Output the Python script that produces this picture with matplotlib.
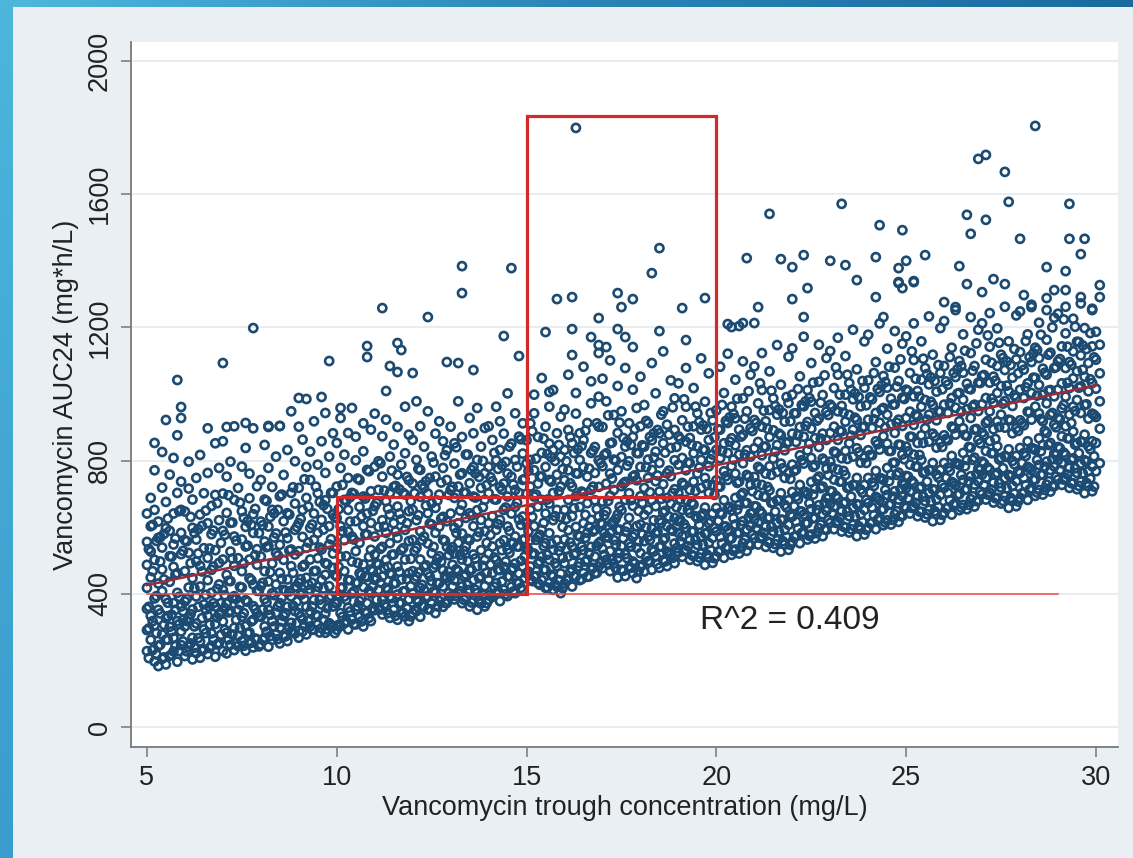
import numpy as np
import matplotlib
matplotlib.use("Agg")
import matplotlib.pyplot as plt
from matplotlib.colors import LinearSegmentedColormap
from matplotlib.patches import Rectangle

plt.rcParams['font.family'] = ['Liberation Sans', 'DejaVu Sans']

# AUC24 readings, grouped by trough band; row k of a band = trough base + 0.k mg/L
auc_t05 = [
    [228, 291, 355, 418, 487, 556, 641], [262, 334, 449, 527, 603, 688],
    [197, 305, 386, 502, 652, 771], [183, 243, 352, 431, 568, 617],
    [205, 278, 408, 473, 539, 719, 826], [188, 262, 327, 384, 597, 676],
    [214, 301, 436, 513, 589, 758], [227, 268, 372, 481, 548, 641, 808],
    [196, 318, 403, 462, 703, 876], [246, 287, 362, 519, 583, 652, 737],
]
auc_t06 = [
    [213, 302, 377, 468, 561, 647], [241, 326, 419, 523, 716, 797],
    [203, 268, 353, 447, 598, 683], [222, 311, 392, 497, 563, 748],
    [208, 257, 422, 484, 638, 817], [233, 293, 368, 537, 702],
    [219, 334, 441, 508, 612, 763, 897], [244, 281, 403, 472, 579, 664],
    [211, 309, 362, 531, 697, 852], [252, 338, 428, 493, 621, 778],
]
auc_t07 = [
    [228, 317, 412, 503, 589, 701, 858], [221, 283, 371, 457, 643, 752],
    [247, 349, 438, 527, 613, 797], [231, 298, 393, 484, 572, 682, 903],
    [243, 274, 352, 507, 718], [258, 331, 419, 468, 563, 648, 782],
    [229, 303, 381, 542, 601, 838], [252, 284, 447, 503, 687, 761],
    [239, 322, 363, 428, 583, 639, 897], [263, 342, 409, 487, 534, 723],
]
auc_t08 = [
    [248, 331, 423, 512, 617, 742], [268, 302, 384, 468, 557, 683, 847],
    [241, 352, 437, 543, 602, 778, 901], [262, 318, 402, 491, 652, 721],
    [279, 343, 428, 523, 581, 812], [251, 298, 372, 463, 547, 693, 904],
    [272, 333, 412, 502, 618, 757], [258, 361, 443, 567, 642, 832],
    [287, 313, 392, 483, 533, 703, 948], [281, 348, 421, 518, 592, 671, 798],
]
auc_t09 = [
    [268, 342, 433, 528, 612, 718, 902], [287, 323, 401, 482, 571, 652, 863],
    [278, 361, 448, 538, 688, 781], [302, 347, 413, 503, 598, 742, 827],
    [292, 382, 468, 562, 641, 918], [308, 333, 421, 507, 583, 702, 788],
    [297, 368, 442, 533, 622, 858], [283, 341, 457, 492, 681, 763, 943],
    [312, 388, 423, 548, 603, 812], [301, 362, 478, 521, 638, 703, 882],
]
auc_t10 = [
    [292, 371, 452, 538, 627, 722, 853], [303, 342, 418, 512, 603, 778, 928],
    [311, 392, 468, 561, 682, 818], [293, 358, 441, 587, 652, 748, 883],
    [322, 401, 497, 572, 703, 958], [308, 352, 433, 528, 618, 801, 872],
    [331, 378, 462, 553, 661, 742], [302, 421, 488, 603, 692, 828, 912],
    [343, 372, 451, 578, 641, 772], [318, 402, 473, 532, 613, 708, 893],
]
auc_t11 = [
    [351, 442, 518, 572, 663, 782, 941], [358, 412, 488, 601, 712, 798],
    [338, 382, 452, 541, 621, 752, 873], [361, 418, 502, 583, 678, 923],
    [328, 392, 461, 552, 638, 703, 812], [352, 431, 518, 612, 721, 848],
    [322, 398, 482, 568, 662, 758, 901], [341, 372, 443, 531, 623, 788],
    [332, 408, 503, 592, 698, 822, 962], [318, 383, 462, 558, 648, 741, 878],
]
auc_t12 = [
    [342, 401, 468, 562, 652, 731, 862], [348, 383, 452, 538, 621, 802, 978],
    [331, 418, 503, 588, 691, 772, 903], [362, 412, 481, 572, 718, 842],
    [353, 391, 462, 551, 642, 701, 948], [371, 438, 522, 608, 672, 812],
    [342, 403, 488, 583, 658, 752, 881], [378, 432, 513, 602, 698, 918],
    [361, 422, 471, 562, 631, 778, 858], [372, 448, 541, 618, 742, 831],
]
auc_t13 = [
    [392, 452, 532, 641, 712, 902], [383, 441, 521, 598, 688, 791, 852],
    [401, 468, 553, 612, 722, 978], [372, 422, 503, 581, 668, 762, 871],
    [388, 458, 542, 628, 703, 818], [362, 412, 472, 561, 642, 732, 928],
    [381, 441, 518, 603, 692, 781, 882], [352, 402, 483, 572, 651, 802, 958],
    [371, 452, 531, 622, 718, 842], [362, 423, 502, 588, 682, 762, 898],
]
auc_t14 = [
    [382, 443, 521, 612, 702, 781, 903], [391, 462, 542, 633, 738, 862],
    [401, 432, 502, 592, 683, 801, 962], [378, 471, 552, 622, 721, 832, 918],
    [412, 481, 561, 652, 731, 881], [393, 452, 533, 602, 692, 761, 1002],
    [421, 472, 553, 641, 752, 851], [402, 491, 572, 661, 712, 802, 942],
    [432, 461, 542, 623, 703, 872], [411, 482, 562, 632, 742, 821, 912],
]
auc_t15 = [
    [462, 533, 612, 701, 792, 861], [443, 482, 561, 652, 722, 802, 912],
    [452, 521, 603, 692, 771, 942, 998], [432, 491, 571, 662, 731, 871],
    [441, 512, 592, 682, 752, 823, 1048], [418, 472, 552, 641, 781, 902],
    [433, 502, 582, 671, 742, 851, 962], [412, 452, 532, 621, 703, 832, 1012],
    [421, 483, 561, 652, 758, 882], [402, 461, 542, 631, 722, 812, 932],
]
auc_t16 = [
    [431, 492, 563, 652, 741, 832, 953], [442, 512, 591, 682, 771, 892, 1058],
    [422, 473, 542, 633, 722, 852], [452, 522, 601, 693, 762, 941, 1003],
    [441, 493, 572, 661, 802, 882], [462, 531, 612, 702, 781, 862, 1082],
    [451, 502, 583, 672, 752, 913], [473, 541, 622, 712, 823, 972, 1038],
    [461, 512, 592, 681, 763, 841], [482, 552, 632, 721, 801, 902, 992],
]
auc_t17 = [
    [477, 536, 609, 677, 783, 901, 1046], [502, 572, 648, 731, 822, 978],
    [468, 528, 583, 694, 761, 852, 1101], [491, 561, 617, 712, 803, 937],
    [449, 507, 592, 638, 772, 883, 1024], [472, 543, 651, 723, 811, 948],
    [453, 519, 587, 682, 736, 842, 1078], [481, 552, 628, 702, 798, 912],
    [462, 497, 571, 664, 752, 871, 1013], [447, 538, 603, 741, 823, 958],
]
auc_t18 = [
    [481, 522, 608, 693, 781, 903, 1052], [467, 558, 637, 718, 842, 967],
    [498, 571, 652, 748, 803, 912], [472, 533, 596, 681, 772, 861, 1093],
    [513, 582, 663, 738, 827, 1002], [478, 541, 621, 707, 793, 882],
    [501, 562, 644, 729, 852, 948, 1128], [483, 527, 603, 688, 762, 908],
    [518, 593, 671, 753, 838, 1041], [492, 551, 628, 714, 801, 892, 987],
]
auc_t19 = [
    [524, 583, 618, 702, 788, 873, 1032], [511, 573, 652, 733, 808, 921],
    [531, 598, 682, 771, 857, 962, 1078], [502, 561, 643, 712, 793, 868],
    [513, 588, 668, 737, 822, 903, 1018], [498, 547, 627, 761, 843, 942],
    [521, 572, 633, 718, 802, 893, 1107], [487, 581, 659, 748, 832, 977],
    [508, 552, 612, 703, 783, 862, 1062], [493, 568, 641, 727, 818, 921],
]
auc_t20 = [
    [512, 587, 658, 741, 832, 951], [528, 571, 643, 722, 807, 893, 1082],
    [508, 602, 681, 768, 852, 1003], [541, 592, 657, 742, 823, 913, 1121],
    [517, 566, 651, 783, 867, 962], [533, 608, 688, 761, 846, 927, 1043],
    [521, 583, 667, 737, 818, 893], [552, 618, 703, 792, 878, 987, 1098],
    [529, 593, 673, 757, 831, 948], [546, 603, 641, 727, 812, 897, 1058],
]
auc_t21 = [
    [567, 624, 663, 751, 837, 922, 1083], [548, 614, 697, 781, 856, 972],
    [572, 641, 727, 816, 902, 1012, 1123], [541, 602, 691, 761, 842, 918],
    [553, 629, 711, 783, 871, 952, 1068], [538, 587, 674, 806, 891, 987],
    [561, 613, 681, 766, 847, 938, 1147], [527, 623, 702, 791, 876, 1028],
    [548, 592, 667, 748, 831, 917], [532, 607, 681, 763, 856, 973, 1112],
]
auc_t22 = [
    [557, 632, 706, 788, 881, 998, 1137], [573, 617, 692, 773, 856, 942],
    [552, 648, 727, 816, 901, 1053], [586, 638, 706, 791, 872, 963, 1172],
    [563, 612, 699, 831, 916, 1012], [578, 654, 736, 808, 896, 977, 1093],
    [566, 627, 716, 786, 867, 943], [597, 666, 752, 841, 927, 1037, 1148],
    [573, 639, 722, 806, 881, 997], [592, 649, 688, 776, 862, 947, 1108],
]
auc_t23 = [
    [613, 671, 709, 797, 883, 968, 1129], [594, 661, 743, 827, 902, 1018],
    [618, 687, 773, 862, 948, 1058, 1169], [587, 648, 737, 807, 888, 964],
    [599, 675, 757, 829, 917, 998, 1114], [584, 633, 721, 852, 937, 1033],
    [607, 659, 727, 812, 893, 984, 1193], [573, 669, 748, 837, 922, 1074],
    [594, 638, 713, 794, 877, 963], [578, 652, 727, 809, 902, 1019, 1158],
]
auc_t24 = [
    [598, 673, 748, 831, 923, 1041, 1178], [614, 659, 734, 816, 898, 984],
    [594, 691, 769, 858, 943, 1096], [628, 681, 748, 833, 914, 1006, 1212],
    [606, 654, 742, 873, 958, 1054], [621, 697, 778, 851, 938, 1019, 1136],
    [608, 669, 758, 829, 909, 986], [639, 708, 794, 883, 969, 1079, 1189],
    [616, 683, 764, 848, 923, 1039], [634, 693, 731, 818, 904, 989, 1151],
]
auc_t25 = [
    [658, 717, 754, 842, 928, 1013, 1173], [641, 707, 788, 872, 947, 1063],
    [663, 732, 818, 907, 993, 1102, 1212], [633, 693, 781, 853, 933, 1009],
    [646, 721, 802, 876, 962, 1043, 1158], [629, 678, 766, 897, 982, 1078],
    [652, 704, 772, 857, 938, 1029, 1233], [618, 714, 793, 881, 967, 1118],
    [638, 683, 758, 839, 921, 1007], [622, 697, 772, 854, 947, 1063, 1198],
]
auc_t26 = [
    [643, 718, 793, 876, 968, 1084, 1219], [659, 703, 779, 861, 943, 1028],
    [638, 736, 814, 902, 988, 1139], [672, 726, 793, 878, 959, 1051, 1252],
    [651, 699, 787, 918, 1003, 1099], [667, 742, 823, 897, 983, 1064, 1179],
    [654, 714, 802, 874, 954, 1031], [684, 753, 839, 928, 1014, 1123, 1231],
    [662, 728, 809, 893, 968, 1084], [679, 738, 776, 863, 949, 1034, 1193],
]
auc_t27 = [
    [699, 758, 797, 884, 969, 1054, 1212], [683, 748, 829, 913, 988, 1103],
    [704, 773, 859, 948, 1034, 1142, 1243], [674, 734, 823, 894, 974, 1052],
    [688, 763, 843, 918, 1003, 1084, 1197], [671, 719, 808, 938, 1024, 1118],
    [693, 747, 814, 899, 979, 1072, 1262], [658, 757, 834, 923, 1008, 1158],
    [679, 724, 799, 882, 964, 1049], [663, 738, 814, 897, 989, 1104, 1236],
]
auc_t28 = [
    [688, 763, 838, 921, 1013, 1126, 1248], [703, 748, 823, 906, 988, 1073],
    [682, 781, 858, 947, 1032, 1179], [717, 771, 838, 923, 1003, 1096, 1268],
    [694, 743, 832, 962, 1048, 1139], [712, 787, 867, 942, 1027, 1108, 1214],
    [698, 758, 847, 918, 998, 1076], [728, 797, 883, 972, 1058, 1163, 1252],
    [707, 772, 853, 937, 1012, 1124], [723, 782, 821, 908, 993, 1078, 1229],
]
auc_t29 = [
    [743, 802, 841, 928, 1013, 1098, 1241], [727, 792, 873, 957, 1032, 1143],
    [748, 817, 903, 992, 1078, 1182, 1262], [718, 778, 867, 938, 1018, 1096],
    [732, 807, 887, 962, 1047, 1128, 1226], [714, 763, 852, 982, 1068, 1157],
    [737, 791, 858, 943, 1023, 1116, 1272], [702, 801, 878, 967, 1052, 1198],
    [723, 768, 843, 926, 1008, 1093], [708, 783, 858, 941, 1033, 1143, 1256],
]
auc_t30 = [
    [768, 853, 931, 1016, 1103, 1187], [792, 896, 978, 1062, 1148],
]

# second pass over the dense core, read at the half-tenths (base + 0.k5 mg/L)
auc_h05 = [[207, 296, 361, 534], [231, 318, 468, 607], [218, 282, 393, 559], [247, 341, 497, 570],
           [209, 307, 443, 580], [262, 333, 373, 626], [217, 287, 337, 512], [243, 352, 458, 566],
           [228, 309, 391, 648], [257, 322, 348, 529]]
auc_h06 = [[227, 318, 385, 558], [251, 339, 492, 631], [238, 302, 417, 583], [267, 361, 521, 594],
           [229, 327, 467, 604], [282, 353, 397, 650], [237, 307, 361, 536], [263, 372, 482, 590],
           [248, 329, 415, 672], [277, 342, 372, 553]]
auc_h07 = [[292, 357, 396, 577], [263, 344, 439, 696], [278, 387, 506, 614], [252, 322, 385, 560],
           [297, 368, 421, 674], [244, 342, 491, 628], [282, 376, 545, 618], [253, 317, 441, 607],
           [266, 354, 516, 655], [242, 333, 409, 582]]
auc_h08 = [[262, 353, 433, 606], [286, 374, 540, 679], [273, 337, 465, 631], [302, 396, 569, 642],
           [264, 362, 515, 652], [317, 388, 445, 698], [272, 342, 409, 584], [298, 407, 530, 638],
           [283, 364, 463, 720], [312, 377, 420, 601]]
auc_h09 = [[332, 397, 444, 625], [303, 384, 487, 744], [318, 427, 554, 662], [292, 362, 433, 608],
           [337, 408, 469, 722], [284, 382, 539, 676], [322, 416, 593, 666], [293, 357, 489, 655],
           [306, 394, 564, 703], [282, 373, 457, 630]]
auc_h10 = [[307, 398, 481, 654], [331, 419, 588, 727], [318, 382, 513, 679], [347, 441, 617, 690],
           [309, 407, 563, 700], [362, 433, 493, 746], [317, 387, 457, 632], [343, 452, 578, 686],
           [328, 409, 511, 768], [357, 422, 468, 649]]
auc_h11 = [[382, 447, 492, 673], [353, 434, 535, 792], [368, 477, 602, 710], [342, 412, 481, 656],
           [387, 458, 517, 770], [334, 432, 587, 724], [372, 466, 641, 714], [343, 407, 537, 703],
           [356, 444, 612, 751], [332, 423, 505, 678]]
auc_h12 = [[352, 443, 529, 702], [376, 464, 636, 775], [363, 427, 561, 727], [392, 486, 665, 738],
           [354, 452, 611, 748], [407, 478, 541, 794], [362, 432, 505, 680], [388, 497, 626, 734],
           [373, 454, 559, 816], [402, 467, 516, 697]]
auc_h13 = [[422, 487, 540, 721], [393, 474, 583, 840], [408, 517, 650, 758], [382, 452, 529, 704],
           [427, 498, 565, 818], [374, 472, 635, 772], [412, 506, 689, 762], [383, 447, 585, 751],
           [396, 484, 660, 799], [372, 463, 553, 726]]
auc_h14 = [[397, 488, 577, 750], [421, 509, 684, 823], [408, 472, 609, 775], [437, 531, 713, 786],
           [399, 497, 659, 796], [452, 523, 589, 842], [407, 477, 553, 728], [433, 542, 674, 782],
           [418, 499, 607, 864], [447, 512, 564, 745]]
auc_h15 = [[467, 532, 588, 769], [438, 519, 631, 888], [453, 562, 698, 806], [427, 497, 577, 752],
           [472, 543, 613, 866], [419, 517, 683, 820], [457, 551, 737, 810], [428, 492, 633, 799],
           [441, 529, 708, 847], [417, 508, 601, 774]]
auc_h16 = [[442, 533, 625, 798], [466, 554, 732, 871], [453, 517, 657, 823], [482, 576, 761, 834],
           [444, 542, 707, 844], [497, 568, 637, 890], [452, 522, 601, 776], [478, 587, 722, 830],
           [463, 544, 655, 912], [492, 557, 612, 793]]
auc_h17 = [[517, 582, 636, 817], [488, 569, 679, 936], [503, 612, 746, 854], [477, 547, 625, 800],
           [522, 593, 661, 914], [469, 567, 731, 868], [507, 601, 785, 858], [478, 542, 681, 847],
           [491, 579, 756, 895], [467, 558, 649, 822]]
auc_h18 = [[487, 578, 673, 846], [511, 599, 780, 919], [498, 562, 705, 871], [527, 621, 809, 882],
           [489, 587, 755, 892], [542, 613, 685, 938], [497, 567, 649, 824], [523, 632, 770, 878],
           [508, 589, 703, 960], [537, 602, 660, 841]]
auc_h19 = [[557, 622, 684, 865], [528, 609, 727, 984], [543, 652, 794, 902], [517, 587, 673, 848],
           [562, 633, 709, 962], [509, 607, 779, 916], [547, 641, 833, 906], [518, 582, 729, 895],
           [531, 619, 804, 943], [507, 598, 697, 870]]
auc_h20 = [[527, 618, 721, 894], [551, 639, 828, 967], [538, 602, 753, 919], [567, 661, 857, 930],
           [529, 627, 803, 940], [582, 653, 733, 986], [537, 607, 697, 872], [563, 672, 818, 926],
           [548, 629, 751, 1008], [577, 642, 708, 889]]
auc_h21 = [[597, 662, 732, 913], [568, 649, 775, 1032], [583, 692, 842, 950], [557, 627, 721, 896],
           [602, 673, 757, 1010], [549, 647, 827, 964], [587, 681, 881, 954], [558, 622, 777, 943],
           [571, 659, 852, 991], [547, 638, 745, 918]]
auc_h22 = [[572, 663, 769, 942], [596, 684, 876, 1015], [583, 647, 801, 967], [612, 706, 905, 978],
           [574, 672, 851, 988], [627, 698, 781, 1034], [582, 652, 745, 920], [608, 717, 866, 974],
           [593, 674, 799, 1056], [622, 687, 756, 937]]
auc_h23 = [[642, 707, 780, 961], [613, 694, 823, 1080], [628, 737, 890, 998], [602, 672, 769, 944],
           [647, 718, 805, 1058], [594, 692, 875, 1012], [632, 726, 929, 1002], [603, 667, 825, 991],
           [616, 704, 900, 1039], [592, 683, 793, 966]]
auc_h24 = [[612, 703, 817, 990], [636, 724, 924, 1063], [623, 687, 849, 1015], [652, 746, 953, 1026],
           [614, 712, 899, 1036], [667, 738, 829, 1082], [622, 692, 793, 968], [648, 757, 914, 1022],
           [633, 714, 847, 1104], [662, 727, 804, 985]]
auc_h25 = [[687, 752, 828, 1009], [658, 739, 871, 1128], [673, 782, 938, 1046], [647, 717, 817, 992],
           [692, 763, 853, 1106], [639, 737, 923, 1060], [677, 771, 977, 1050], [648, 712, 873, 1039],
           [661, 749, 948, 1087], [637, 728, 841, 1014]]
auc_h26 = [[657, 748, 865, 1038], [681, 769, 972, 1111], [668, 732, 897, 1063], [697, 791, 1001, 1074],
           [659, 757, 947, 1084], [712, 783, 877, 1130], [667, 737, 841, 1016], [693, 802, 962, 1070],
           [678, 759, 895, 1152], [707, 772, 852, 1033]]
auc_h27 = [[727, 792, 876, 1057], [698, 779, 919, 1176], [713, 822, 986, 1094], [687, 757, 865, 1040],
           [732, 803, 901, 1154], [679, 777, 971, 1108], [717, 811, 1025, 1098], [688, 752, 921, 1087],
           [701, 789, 996, 1135], [677, 768, 889, 1062]]
auc_h28 = [[702, 793, 913, 1086], [726, 814, 1020, 1159], [713, 777, 945, 1111], [742, 836, 1049, 1122],
           [704, 802, 995, 1132], [757, 828, 925, 1178], [712, 782, 889, 1064], [738, 847, 1010, 1118],
           [723, 804, 943, 1200], [752, 817, 900, 1081]]
auc_h29 = [[772, 837, 924, 1105], [743, 824, 967, 1224], [758, 867, 1034, 1142], [732, 802, 913, 1088],
           [777, 848, 949, 1202], [724, 822, 1019, 1156], [762, 856, 1073, 1146], [733, 797, 969, 1135],
           [746, 834, 1044, 1183], [722, 813, 937, 1110]]

# sparse high points (trough, AUC24)
outlier_points = [
    (5.8, 1042), (5.9, 961), (5.5, 922), (5.9, 928), (5.2, 853), (7.0, 1093),
    (7.1, 901), (7.6, 913), (7.8, 1198), (8.2, 904), (8.5, 904), (9.0, 988),
    (9.2, 985), (9.6, 991), (9.8, 1099), (10.1, 958), (10.8, 1144), (10.8, 1111),
    (11.2, 1258), (11.3, 1009), (11.4, 1084), (11.6, 1153), (11.6, 1066),
    (11.7, 1132), (12.0, 1063), (12.4, 1231), (12.9, 1096), (13.2, 1093),
    (13.3, 1384), (13.3, 1303), (13.6, 1072), (14.4, 1174), (14.6, 1378),
    (14.8, 1114), (15.5, 1186), (15.6, 1006), (15.8, 1285), (16.2, 1291),
    (16.2, 1195), (16.2, 1117), (16.3, 1799), (16.7, 1171), (16.9, 1228),
    (16.9, 1147), (16.9, 1123), (17.1, 1141), (17.4, 1303), (17.4, 1195),
    (17.5, 1261), (17.6, 1171), (17.8, 1285), (17.8, 1141), (18.3, 1363),
    (18.5, 1438), (18.5, 1189), (19.1, 1258), (19.2, 1162), (19.7, 1288),
    (20.3, 1210), (20.6, 1204), (20.8, 1408), (21.0, 1213), (21.1, 1261),
    (21.4, 1541), (21.7, 1405), (22.0, 1381), (22.0, 1285), (22.3, 1417),
    (22.3, 1231), (22.4, 1318), (23.0, 1400), (23.3, 1571), (23.4, 1387),
    (23.7, 1342), (24.2, 1411), (24.3, 1507), (24.8, 1378), (24.8, 1333),
    (24.9, 1492), (25.0, 1400), (25.2, 1339), (25.5, 1417), (26.4, 1384),
    (26.6, 1538), (26.6, 1330), (26.7, 1481), (26.9, 1706), (27.1, 1718),
    (27.1, 1523), (27.3, 1345), (27.6, 1667), (27.6, 1330), (27.7, 1577),
    (28.0, 1466), (28.4, 1805), (28.7, 1381), (29.2, 1369), (29.3, 1571),
    (29.3, 1466), (29.6, 1420), (29.7, 1466), (24.4, 1231), (24.2, 1291),
    (24.9, 1318), (25.2, 1336), (24.8, 1336), (26.0, 1276), (26.3, 1261),
    (27.0, 1306), (28.1, 1297), (28.3, 1261), (28.7, 1288), (28.9, 1312),
    (29.2, 1312), (29.6, 1291), (30.1, 1327), (30.1, 1291), (29.9, 1252),
    (20.7, 1213), (20.4, 1201),
]

# linear fit and annotation values
fit_trough = [5, 30]
fit_auc = [426, 1026]
target_trough = [5, 29]
target_auc = [400, 400]
box_low = (10, 15, 400, 690)
box_high = (15, 20, 690, 1835)
r2_text = "R^2 = 0.409"

tenth_bands = [(5, auc_t05), (6, auc_t06), (7, auc_t07), (8, auc_t08), (9, auc_t09),
               (10, auc_t10), (11, auc_t11), (12, auc_t12), (13, auc_t13), (14, auc_t14),
               (15, auc_t15), (16, auc_t16), (17, auc_t17), (18, auc_t18), (19, auc_t19),
               (20, auc_t20), (21, auc_t21), (22, auc_t22), (23, auc_t23), (24, auc_t24),
               (25, auc_t25), (26, auc_t26), (27, auc_t27), (28, auc_t28), (29, auc_t29),
               (30, auc_t30)]
half_bands = [(5, auc_h05), (6, auc_h06), (7, auc_h07), (8, auc_h08), (9, auc_h09),
              (10, auc_h10), (11, auc_h11), (12, auc_h12), (13, auc_h13), (14, auc_h14),
              (15, auc_h15), (16, auc_h16), (17, auc_h17), (18, auc_h18), (19, auc_h19),
              (20, auc_h20), (21, auc_h21), (22, auc_h22), (23, auc_h23), (24, auc_h24),
              (25, auc_h25), (26, auc_h26), (27, auc_h27), (28, auc_h28), (29, auc_h29)]

trough, auc = [], []
for offset, bands in ((0.0, tenth_bands), (0.05, half_bands)):
    for base, rows in bands:
        for k, vals in enumerate(rows):
            trough += [base + offset + k / 10] * len(vals)
            auc += vals
for t, a in outlier_points:
    trough.append(t)
    auc.append(a)

W, H = 1133, 858
fig = plt.figure(figsize=(W / 100, H / 100), dpi=100)
fig.patch.set_facecolor('#e9eff2')

# slide decoration: blue gradient strips on top and left
top = fig.add_axes([0, 1 - 7 / H, 1, 7 / H])
top.imshow(np.linspace(0, 1, 256)[None, :], aspect='auto',
           cmap=LinearSegmentedColormap.from_list('t', ['#4db9de', '#2a86b8', '#1a6aa0']))
top.axis('off')
left = fig.add_axes([0, 0, 13 / W, 1])
left.imshow(np.linspace(0, 1, 256)[:, None], aspect='auto',
            cmap=LinearSegmentedColormap.from_list('l', ['#4cb6dc', '#3a9ccc']))
left.axis('off')

ax = fig.add_axes([131 / W, 111 / H, 987 / W, 705 / H])
ax.set_facecolor('white')
ax.set_xlim(4.58, 30.58)
ax.set_ylim(-60, 2057)

ax.scatter(trough, auc, s=34, facecolors='none', edgecolors='#1b4a72',
           linewidths=1.9, zorder=3)
ax.plot(fit_trough, fit_auc, color='#9c2b3a', lw=1.8, zorder=4)
ax.plot(target_trough, target_auc, color='#f04848', lw=1.1, zorder=4)
for x0, x1, y0, y1 in (box_low, box_high):
    ax.add_patch(Rectangle((x0, y0), x1 - x0, y1 - y0, fill=False,
                           edgecolor='#d22a2a', lw=2.3, zorder=5))
ax.text(19.57, 321, r2_text, fontsize=24, va='center', ha='left', color='#222222')

ax.set_xticks([5, 10, 15, 20, 25, 30])
ax.set_yticks([0, 400, 800, 1200, 1600, 2000])
ax.grid(axis='y', color='#e6eaec', lw=1.2)
ax.set_axisbelow(True)
ax.tick_params(axis='both', length=7, width=1.1, color='#777777',
               labelsize=19.5, labelcolor='#222222', pad=6)
for lbl in ax.get_yticklabels():
    lbl.set_rotation(90)
    lbl.set_va('center')
for s in ['top', 'right']:
    ax.spines[s].set_visible(False)
for s in ['left', 'bottom']:
    ax.spines[s].set_color('#7a7a7a')
    ax.spines[s].set_linewidth(1.3)

ax.set_xlabel('Vancomycin trough concentration (mg/L)', fontsize=19.5, color='#222222')
ax.set_ylabel('Vancomycin AUC24 (mg*h/L)', fontsize=19.5, color='#222222')
ax.xaxis.set_label_coords(0.5, -0.0865)
ax.xaxis.label.set_va('center')
ax.yaxis.set_label_coords(-0.066, 0.5)
ax.yaxis.label.set_va('center')

fig.savefig('out.png', dpi=100, facecolor=fig.get_facecolor())
